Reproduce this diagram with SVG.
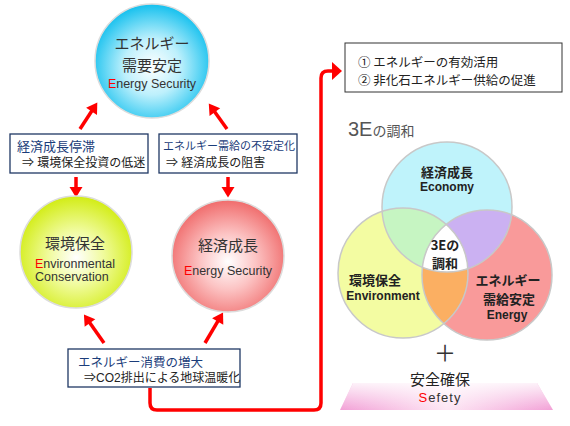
<svg xmlns="http://www.w3.org/2000/svg" width="570" height="426" viewBox="0 0 570 426">
<defs>
<style>
.jp{font-family:"Noto Sans CJK JP",sans-serif;}
.lat{font-family:"Liberation Sans",Arial,"Noto Sans CJK JP",sans-serif;}
.ttl{font-family:"Noto Sans CJK JP",sans-serif;font-size:15px;fill:#333;text-anchor:middle;}
.sub{font-family:"Liberation Sans",Arial,sans-serif;font-size:12.5px;fill:#333;}
.red{fill:#ff0000;}
.box{fill:#fff;stroke:#1f3864;stroke-width:1.3;}
.bh{font-family:"Noto Sans CJK JP",sans-serif;fill:#1b3d7a;}
.bt{font-family:"Liberation Sans","Noto Sans CJK JP",sans-serif;fill:#222;font-size:12px;}
.arr{stroke:#ff0000;stroke-width:3.5;fill:none;marker-end:url(#ah);}
.vc{stroke:#c8c8c8;stroke-width:1.5;fill:none;}
.vt{font-family:"Noto Sans CJK JP",sans-serif;font-weight:bold;font-size:13px;fill:#222;text-anchor:middle;}
.ve{font-family:"Liberation Sans",Arial,sans-serif;font-weight:bold;font-size:12px;fill:#222;text-anchor:middle;}
</style>
<marker id="ah" markerUnits="userSpaceOnUse" markerWidth="12" markerHeight="14" viewBox="0 -7 11 14" refX="1" refY="0" orient="auto">
<path d="M0,-6.5 L10.5,0 L0,6.5 z" fill="#ff0000"/>
</marker>
<radialGradient id="gb" cx="0.5" cy="0.55" r="0.55">
<stop offset="0" stop-color="#ffffff"/>
<stop offset="0.45" stop-color="#bdf0fc"/>
<stop offset="1" stop-color="#14c0ee"/>
</radialGradient>
<radialGradient id="gy" cx="0.5" cy="0.55" r="0.55">
<stop offset="0" stop-color="#ffffff"/>
<stop offset="0.45" stop-color="#f0fb9c"/>
<stop offset="1" stop-color="#d2ec14"/>
</radialGradient>
<radialGradient id="gr" cx="0.5" cy="0.55" r="0.55">
<stop offset="0" stop-color="#ffffff"/>
<stop offset="0.45" stop-color="#fcc4c4"/>
<stop offset="1" stop-color="#f06c6c"/>
</radialGradient>
<linearGradient id="pk" x1="0" y1="0" x2="1" y2="0">
<stop offset="0" stop-color="#f2a0d6"/>
<stop offset="0.5" stop-color="#fde6f4"/>
<stop offset="1" stop-color="#f2a0d6"/>
</linearGradient>
<linearGradient id="pkv" x1="0" y1="0" x2="0" y2="1">
<stop offset="0" stop-color="#ffffff" stop-opacity="0.85"/>
<stop offset="1" stop-color="#ffffff" stop-opacity="0"/>
</linearGradient>
<clipPath id="cT"><circle cx="447" cy="207" r="65"/></clipPath>
<clipPath id="cL"><circle cx="403" cy="273" r="65"/></clipPath>
</defs>
<rect width="570" height="426" fill="#ffffff"/>

<g id="connectors">
<line class="arr" x1="80" y1="129" x2="92.1" y2="110.5"/>
<line class="arr" x1="227" y1="129" x2="214.3" y2="111.3"/>
<line class="arr" x1="76" y1="177" x2="76" y2="188"/>
<line class="arr" x1="228" y1="177" x2="228" y2="188"/>
<line class="arr" x1="104" y1="343" x2="89.4" y2="322.2"/>
<line class="arr" x1="205" y1="343" x2="218.2" y2="320.7"/>
<path d="M150,388 V403 Q150,410 157,410 H314 Q321,410 321,403 V78 Q321,71 328,71 H333" stroke="#ff0000" stroke-width="3.5" fill="none"/>
<polygon points="332,62 342,71 332,80" fill="#ff0000"/>
</g>

<g id="energy-security">
<circle cx="152" cy="61" r="57" fill="url(#gb)" stroke="#dcdcdc" stroke-width="1.5"/>
<text class="ttl" x="152" y="49">エネルギー</text>
<text class="ttl" x="152" y="71">需要安定</text>
<text class="sub" x="152" y="88" text-anchor="middle" font-size="13"><tspan class="red">E</tspan>nergy Security</text>
</g>

<g id="box-stagnation">
<rect class="box" x="10" y="134" width="138" height="39"/>
<text class="bh" x="17" y="151" font-size="13">経済成長停滞</text>
<text class="bt" x="22" y="167">⇒ 環境保全投資の低迷</text>
</g>

<g id="box-instability">
<rect class="box" x="159" y="134" width="138" height="39"/>
<text class="bh" x="163" y="150" font-size="11">エネルギー需給の不安定化</text>
<text class="bt" x="166" y="167">⇒ 経済成長の阻害</text>
</g>

<g id="environment">
<circle cx="76" cy="252" r="56" fill="url(#gy)" stroke="#dcdcdc" stroke-width="1.5"/>
<text class="ttl" x="75" y="249" font-size="16">環境保全</text>
<text class="sub" x="35" y="268"><tspan class="red">E</tspan>nvironmental</text>
<text class="sub" x="35" y="281">Conservation</text>
</g>

<g id="economy">
<circle cx="228" cy="256" r="56" fill="url(#gr)" stroke="#dcdcdc" stroke-width="1.5"/>
<text class="ttl" x="228" y="251" font-size="16">経済成長</text>
<text class="sub" x="228" y="275" text-anchor="middle" font-size="13"><tspan class="red">E</tspan>nergy Security</text>
</g>

<g id="box-consumption">
<rect class="box" x="68" y="349" width="172" height="38"/>
<text class="bh" x="78" y="367" font-size="12.5">エネルギー消費の増大</text>
<text class="bt" x="84" y="382">⇒CO2排出による地球温暖化</text>
</g>

<g id="measures">
<rect x="345" y="43" width="217" height="49" fill="#fff" stroke="#333" stroke-width="1"/>
<text class="jp" x="358" y="67" font-size="12.5" fill="#222">① エネルギーの有効活用</text>
<text class="jp" x="358" y="85" font-size="12.5" fill="#222">② 非化石エネルギー供給の促進</text>
</g>

<g id="harmony-title">
<text class="lat" x="348" y="136" font-size="20" fill="#555">3E<tspan class="jp" font-size="14">の調和</tspan></text>
</g>

<g id="venn">
<circle cx="447" cy="207" r="65" fill="#bff3fb"/>
<circle cx="403" cy="273" r="65" fill="#f3fca2"/>
<circle cx="487" cy="275" r="65" fill="#f99a9a"/>
<g clip-path="url(#cT)"><circle cx="403" cy="273" r="65" fill="#c6f5c2"/><circle cx="487" cy="275" r="65" fill="#cbb1f2"/></g>
<g clip-path="url(#cL)"><circle cx="487" cy="275" r="65" fill="#fbaf62"/></g>
<g clip-path="url(#cT)"><g clip-path="url(#cL)"><circle cx="487" cy="275" r="65" fill="#ffffff"/></g></g>
<circle class="vc" cx="447" cy="207" r="65"/>
<circle class="vc" cx="403" cy="273" r="65"/>
<circle class="vc" cx="487" cy="275" r="65"/>
<text class="vt" x="447" y="177" font-size="15">経済成長</text>
<text class="ve" x="447" y="191" font-size="11.5">Economy</text>
<text class="vt" x="375" y="285" font-size="14">環境保全</text>
<text class="ve" x="383" y="300">Environment</text>
<text class="vt" x="508" y="285" font-size="13.5">エネルギー</text>
<text class="vt" x="509" y="304" font-size="13.5">需給安定</text>
<text class="ve" x="507" y="319" font-size="11.5">Energy</text>
<text class="vt" x="445" y="250">3Eの</text>
<text class="vt" x="445" y="268">調和</text>
</g>

<g id="safety">
<text class="jp" x="445" y="361" font-size="22" fill="#333" text-anchor="middle">＋</text>
<polygon points="353,383 537,383 553,410 340,410" fill="url(#pk)"/>
<polygon points="353,383 537,383 553,410 340,410" fill="url(#pkv)"/>
<text class="jp" x="440" y="385" font-size="15" fill="#222" text-anchor="middle">安全確保</text>
<text class="lat" x="440" y="402" font-size="13" fill="#333" text-anchor="middle" letter-spacing="1"><tspan class="red">S</tspan>efety</text>
</g>
</svg>
